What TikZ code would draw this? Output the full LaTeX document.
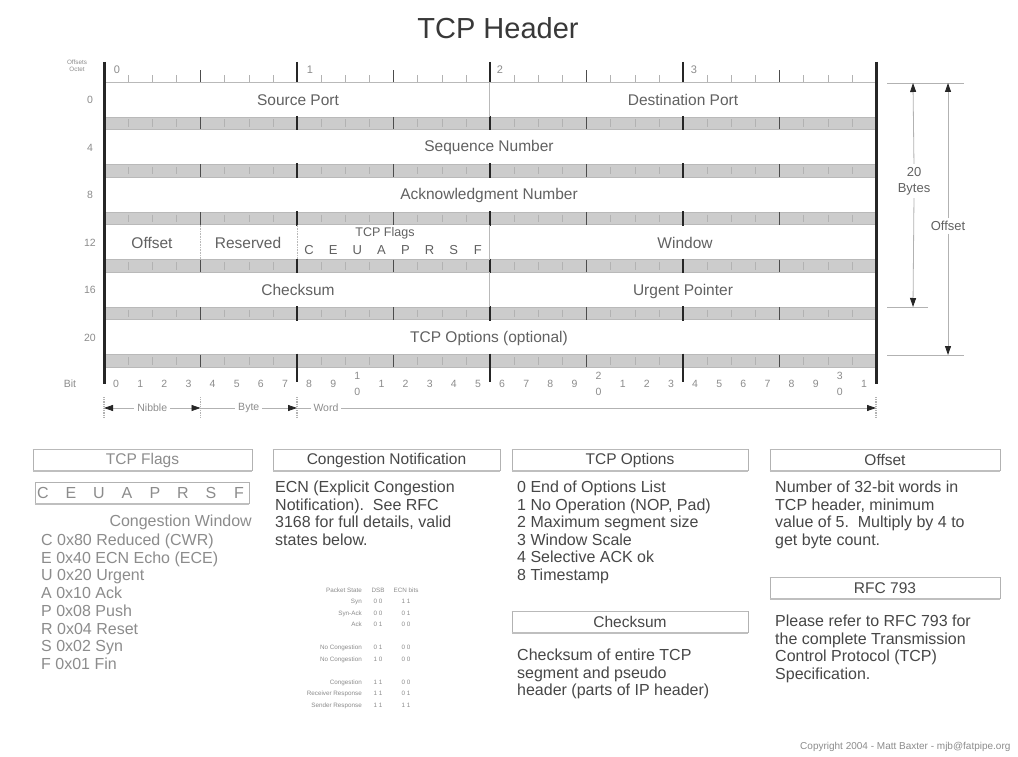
\documentclass[tikz,border=0pt]{standalone}
\usepackage{fontspec}
\setmainfont{Liberation Sans}
\usetikzlibrary{arrows.meta}
\definecolor{titlec}{gray}{0.22}
\definecolor{fieldc}{gray}{0.38}
\definecolor{bodyc}{gray}{0.28}
\definecolor{faintc}{gray}{0.55}
\definecolor{stripc}{gray}{0.80}
\begin{document}
\begin{tikzpicture}[x=1pt,y=-1pt,
  field/.style={font=\fontsize{15.5}{18}\selectfont, text=fieldc, inner sep=0pt},
  body/.style={font=\fontsize{16}{17.6}\selectfont, text=bodyc, inner sep=0pt, anchor=base west},
  faint/.style={font=\fontsize{16}{17.6}\selectfont, text=faintc, inner sep=0pt, anchor=base west},
  hdr/.style={draw=gray!60, line width=0.6pt, fill=white, minimum height=21pt, inner sep=0pt, font=\fontsize{15.5}{18}\selectfont, text=bodyc},
  hdrtop/.style={draw=gray!55, line width=1.3pt},
  hdrbot/.style={draw=gray!50, line width=2.6pt},
  tiny/.style={font=\fontsize{6.3}{7}\selectfont, text=faintc, inner sep=0pt},
  ruler/.style={font=\fontsize{10.5}{12}\selectfont, text=faintc, inner sep=0pt},
  stripedge/.style={draw=gray!55, line width=0.7pt},
  bittick/.style={draw=gray!60, line width=0.4pt},
  nibtick/.style={draw=black!70, line width=1.1pt},
  octtick/.style={draw=black!85, line width=2.6pt},
  sep/.style={draw=gray!55, line width=0.6pt},
  dim/.style={draw=gray!60, line width=0.8pt},
  tip/.style={-{Triangle[length=9pt,width=6pt,color=black!85]}, draw=gray!60, line width=0.8pt},
  tips/.style={{Triangle[length=9pt,width=6pt,color=black!85]}-{Triangle[length=9pt,width=6pt,color=black!85]}, draw=gray!60, line width=0.8pt},
]
\useasboundingbox[fill=white] (0,0) rectangle (1018,757);

% title
\node[font=\fontsize{29}{34}\selectfont, text=titlec] (title) at (498,28) {TCP Header};

% top ruler
\draw[stripedge] (104,82) -- (876,82);
\foreach \i in {1,...,31} {\draw[bittick] ({104+24.125*\i},82) -- ({104+24.125*\i},75);}
\foreach \i in {4,12,20,28} {\draw[nibtick] ({104+24.125*\i},82) -- ({104+24.125*\i},70);}
\foreach \i in {8,16,24} {\draw[octtick] ({104+24.125*\i},62) -- ({104+24.125*\i},82);}
\node[ruler, font=\fontsize{11}{12}\selectfont] (oct0) at (117,70) {0};
\node[ruler, font=\fontsize{11}{12}\selectfont] (oct1) at (310,70) {1};
\node[ruler, font=\fontsize{11}{12}\selectfont] (oct2) at (500,70) {2};
\node[ruler, font=\fontsize{11}{12}\selectfont] (oct3) at (694,70) {3};
\node[tiny, align=center] (corner) at (77,66) {Offsets\\Octet};

% strips between rows
\foreach \r in {0,...,5} {
  \pgfmathsetmacro\ya{117+47.5*\r}
  \pgfmathsetmacro\yb{\ya+12.5}
  \fill[stripc] (104,\ya) rectangle (876,\yb);
  \draw[stripedge] (104,\ya) -- (876,\ya) (104,\yb) -- (876,\yb);
  \foreach \i in {1,...,31} {\draw[bittick] ({104+24.125*\i},\ya+2.5) -- ({104+24.125*\i},\yb-2.5);}
  \foreach \i in {4,12,20,28} {\draw[nibtick] ({104+24.125*\i},\ya) -- ({104+24.125*\i},\yb);}
  \foreach \i in {8,16,24} {\draw[octtick] ({104+24.125*\i},\ya-1) -- ({104+24.125*\i},\yb+1);}
}
% octet ticks below last strip
\foreach \i in {8,16,24} {\draw[octtick] ({104+24.125*\i},367) -- ({104+24.125*\i},382);}

% field separators
\draw[sep] (489,82) -- (489,117);
\draw[sep] (489,224.5) -- (489,259.5);
\draw[sep] (489,272) -- (489,307);
\draw[sep, densely dotted] (200.5,224.5) -- (200.5,259.5);
\draw[sep, densely dotted] (297,224.5) -- (297,259.5);

% outer thick verticals
\draw[black!85, line width=3pt] (104,62) -- (104,384);
\draw[black!85, line width=3pt] (876,62) -- (876,384);

% field labels
\node[field] (sport) at (298,100) {Source Port};
\node[field] (dport) at (683,100) {Destination Port};
\node[field] (seq) at (489,147) {Sequence Number};
\node[field] (ack) at (489,195) {Acknowledgment Number};
\node[field] (off) at (152,243) {Offset};
\node[field] (res) at (248,243) {Reserved};
\node[field, font=\fontsize{12.5}{14}\selectfont] (tflags) at (385,233) {TCP Flags};
\foreach \l [count=\k] in {C,E,U,A,P,R,S,F}
  \node[field, font=\fontsize{13}{14}\selectfont] (tf\k) at ({104+24.125*(7.5+\k)},250) {\l};
\node[field] (win) at (685,243) {Window};
\node[field] (csum) at (298,290) {Checksum};
\node[field] (urg) at (683,291) {Urgent Pointer};
\node[field] (opt) at (489,338) {TCP Options (optional)};

% left offsets
\foreach \v [count=\k from 0] in {0,4,8,12,16,20}
  \node[ruler] (offs\k) at (90,{100+47.5*\k}) {\v};
\node[ruler] (bitl) at (70,384) {Bit};

% bit numbers
\foreach \i in {0,...,31} {
  \pgfmathtruncatemacro\d{mod(\i,10)}
  \pgfmathtruncatemacro\t{\i/10}
  \pgfmathsetmacro\x{104+24.125*(\i+0.5)}
  \ifnum\d=0\relax
    \ifnum\i=0\relax
      \node[ruler] (bit\i) at (\x,384) {0};
    \else
      \node[ruler] (bitt\i) at (\x,376) {\t};
      \node[ruler] (bit\i) at (\x,392) {0};
    \fi
  \else
    \node[ruler] (bit\i) at (\x,384) {\d};
  \fi
}

% nibble / byte / word
\foreach \x in {104,200.5,297,876} {\draw[gray!60, densely dotted, line width=1.2pt] (\x,397) -- (\x,419);}
\coordinate (n0) at (104,408);
\coordinate (n1) at (200.5,408);
\coordinate (n2) at (297,408);
\coordinate (n3) at (876,408);
\draw[tips] (n0) -- node[ruler, fill=white, inner xsep=3pt, inner ysep=1pt] (nib) {Nibble} (n1);
\draw[tip] (n1) -- node[ruler, fill=white, inner xsep=3pt, inner ysep=1pt] (byt) {Byte} (n2);
\draw[tip] (n2) -- node[ruler, fill=white, inner xsep=3pt, inner ysep=1pt, pos=0.05] (wrd) {Word} (n3);

% right dimensions
\coordinate (h1a) at (887,83); \coordinate (h1b) at (964,83);
\coordinate (h2a) at (887,307); \coordinate (h2b) at (928,307);
\coordinate (h3a) at (887,355); \coordinate (h3b) at (964,355);
\draw[dim] (h1a) -- (h1b);
\draw[dim] (h2a) -- (h2b);
\draw[dim] (h3a) -- (h3b);
\coordinate (d20t) at (913,83); \coordinate (d20b) at (913,307);
\coordinate (doft) at (948,83); \coordinate (dofb) at (948,355);
\node[field, font=\fontsize{13}{16}\selectfont, align=center] (bytes) at (914,181) {20\\Bytes};
\node[field, font=\fontsize{13}{16}\selectfont] (offl) at (948,226) {Offset};
\draw[tip, shorten <=3pt] (bytes.north) -- (d20t);
\draw[tip, shorten <=3pt] (bytes.south) -- (d20b);
\draw[tip, shorten <=3pt] (offl.north) -- (doft);
\draw[tip, shorten <=3pt] (offl.south) -- (dofb);

% ---------- bottom panels ----------
\node[hdr, minimum width=219pt, text=faintc] (hflags) at (142.5,460) {TCP Flags};
\node[hdr, minimum width=227pt] (hcong) at (386.5,460) {Congestion Notification};
\node[hdr, minimum width=236pt] (hopt) at (630,460) {TCP Options};
\node[hdr, minimum width=230pt] (hoff) at (885,460) {Offset};
\node[hdr, minimum width=236pt] (hcsum) at (630,622) {Checksum};
\node[hdr, minimum width=230pt] (hrfc) at (885,588) {RFC 793};
\foreach \h in {hflags,hcong,hopt,hoff,hcsum,hrfc} {
  \draw[hdrtop] (\h.north west) -- (\h.north east);
  \draw[hdrbot] (\h.south west) -- (\h.south east);
}

% flags panel
\node[draw=gray!60, line width=0.8pt, minimum width=214pt, minimum height=21pt] (fbox) at (142,493) {};
\draw[hdrbot] (fbox.south west) -- (fbox.south east);
\foreach \l [count=\k] in {C,E,U,A,P,R,S,F}
  \node[faint, anchor=center] (fl\k) at ({43+28*(\k-1)},493) {\l};
\node[faint, anchor=base east] (cwin) at (252,526.5) {Congestion Window};
\foreach \t [count=\k from 0] in {C 0x80 Reduced (CWR),E 0x40 ECN Echo (ECE),U 0x20 Urgent,A 0x10 Ack,P 0x08 Push,R 0x04 Reset,S 0x02 Syn,F 0x01 Fin}
  \node[faint] (fline\k) at (41,{545.5+17.7*\k}) {\t};

% congestion notification panel
\foreach \t [count=\k from 0] in {ECN (Explicit Congestion,{Notification).\ \ See RFC},{3168 for full details, valid},states below.}
  \node[body] (cline\k) at (275,{492.5+17.7*\k}) {\t};
\node[tiny, anchor=base east] (thl) at (362,592) {Packet State};
\node[tiny, anchor=base] (thd) at (378,592) {DSB};
\node[tiny, anchor=base] (the) at (406,592) {ECN bits};
\foreach \a/\b/\c/\y [count=\k] in {Syn/0 0/1 1/603.5, Syn-Ack/0 0/0 1/615, Ack/0 1/0 0/626.5, No Congestion/0 1/0 0/649.5, No Congestion/1 0/0 0/661, Congestion/1 1/0 0/684, Receiver Response/1 1/0 1/695.5, Sender Response/1 1/1 1/707} {
  \node[tiny, anchor=base east] (tl\k) at (362,\y) {\a};
  \node[tiny, anchor=base] (td\k) at (378,\y) {\b};
  \node[tiny, anchor=base] (te\k) at (406,\y) {\c};
}

% TCP options panel
\foreach \t [count=\k from 0] in {0 End of Options List,{1 No Operation (NOP, Pad)},2 Maximum segment size,3 Window Scale,4 Selective ACK ok,8 Timestamp}
  \node[body] (oline\k) at (517,{492.5+17.6*\k}) {\t};
\foreach \t [count=\k from 0] in {Checksum of entire TCP,segment and pseudo,header (parts of IP header)}
  \node[body] (ksline\k) at (517,{660.5+17.6*\k}) {\t};

% offset panel
\foreach \t [count=\k from 0] in {Number of 32-bit words in,{TCP header, minimum},{value of 5.\ \ Multiply by 4 to},get byte count.}
  \node[body] (ofline\k) at (775,{492.5+17.6*\k}) {\t};
\foreach \t [count=\k from 0] in {Please refer to RFC 793 for,the complete Transmission,Control Protocol (TCP),Specification.}
  \node[body] (rfline\k) at (775,{626.5+17.6*\k}) {\t};

\node[font=\fontsize{10}{11}\selectfont, text=faintc, anchor=base east] (copy) at (1014,749) {Copyright 2004 - Matt Baxter - mjb@fatpipe.org};
\end{tikzpicture}
\end{document}
